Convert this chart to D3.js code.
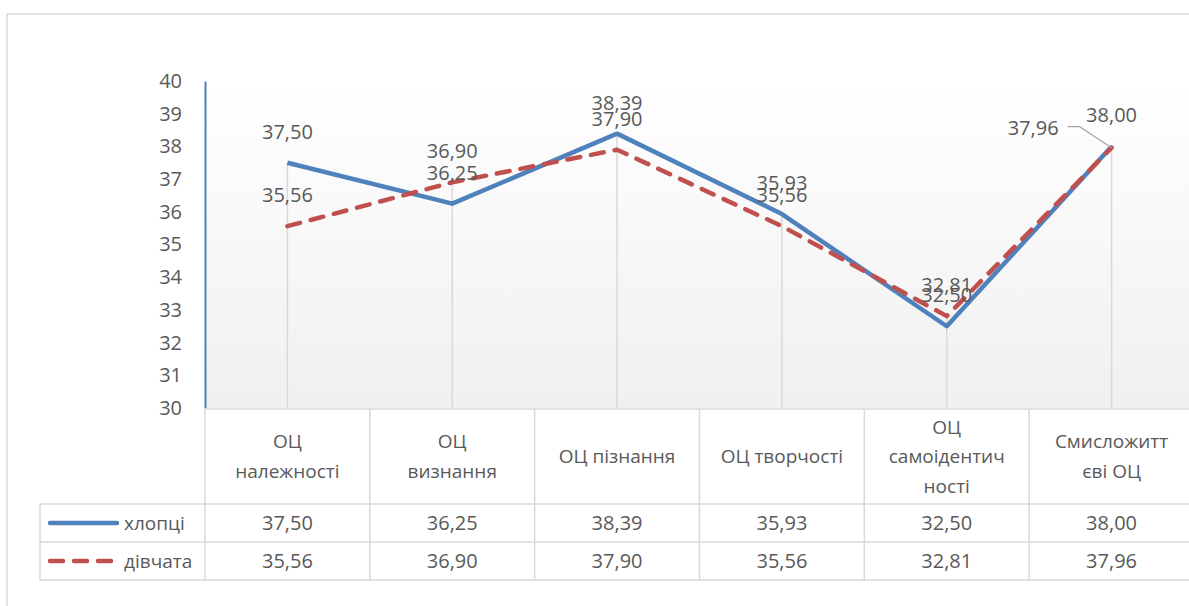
<!DOCTYPE html>
<html>
<head>
<meta charset="utf-8">
<script src="https://cdn.jsdelivr.net/npm/d3@7"></script>
<style>
  body { margin: 0; background: #fff; }
  svg { display: block; font-family: "Open Sans", "Noto Sans", sans-serif; }
</style>
</head>
<body>
<svg id="chart" width="1189" height="606"></svg>
<script>
// categorias (con saltos de linea como en la tabla)
const categories = ['ОЦ\nналежності', 'ОЦ\nвизнання', 'ОЦ пізнання', 'ОЦ творчості', 'ОЦ\nсамоідентич\nності', 'Смисложитт\nєві ОЦ'];
const seriesNames = ['хлопці', 'дівчата'];
const boys = [37.50, 36.25, 38.39, 35.93, 32.50, 38.00];
const girls = [35.56, 36.90, 37.90, 35.56, 32.81, 37.96];
const yTicks = [30, 31, 32, 33, 34, 35, 36, 37, 38, 39, 40];

const svg = d3.select('#chart');
const grey = '#d9d9d9';
const textColor = '#595959';
const blue = '#4f81bd';
const red = '#c0504d';
const dash = '13,11';

const locale = d3.formatLocale({ decimal: ',', thousands: ' ', grouping: [3], currency: ['', ''] });
const fmt = locale.format('.2f');

// borde exterior
svg.append('rect').attr('x', 7).attr('y', 14).attr('width', 1200).attr('height', 620)
  .attr('fill', 'none').attr('stroke', grey).attr('stroke-width', 1.5);

const x = d3.scaleBand().domain(d3.range(categories.length)).range([205, 1194]).padding(0);
const y = d3.scaleLinear().domain([30, 40]).range([408, 81]);
const cx = i => x(i) + x.bandwidth() / 2;

// fondo con degradado
const grad = svg.append('defs').append('linearGradient').attr('id', 'bg')
  .attr('x1', 0).attr('y1', 0).attr('x2', 0).attr('y2', 1);
grad.append('stop').attr('offset', '0%').attr('stop-color', '#ffffff');
grad.append('stop').attr('offset', '100%').attr('stop-color', '#f0f0f0');
svg.append('rect').attr('x', 205).attr('y', y(40)).attr('width', 989).attr('height', y(30) - y(40))
  .attr('fill', 'url(#bg)');

// lineas de caida
svg.append('g').selectAll('line').data(categories).join('line')
  .attr('x1', (d, i) => cx(i)).attr('x2', (d, i) => cx(i))
  .attr('y1', (d, i) => y(Math.max(boys[i], girls[i]))).attr('y2', y(30))
  .attr('stroke', grey).attr('stroke-width', 1.5);

// eje Y
const yAxis = svg.append('g').attr('transform', 'translate(205,0)')
  .call(d3.axisLeft(y).tickValues(yTicks).tickSize(0).tickPadding(23).tickFormat(d3.format('d')));
yAxis.select('.domain').attr('stroke', blue).attr('stroke-width', 2);
yAxis.selectAll('text').attr('fill', textColor).style('font-size', '20px')
  .style('font-family', '"Open Sans", sans-serif');

// lineas de datos
const line = d3.line().x((d, i) => cx(i)).y(d => y(d));
svg.append('path').datum(boys).attr('d', line).attr('fill', 'none')
  .attr('stroke', blue).attr('stroke-width', 4.5).attr('stroke-linejoin', 'round');
svg.append('path').datum(girls).attr('d', line).attr('fill', 'none')
  .attr('stroke', red).attr('stroke-width', 4.5).attr('stroke-dasharray', dash)
  .attr('stroke-linecap', 'round').attr('stroke-linejoin', 'round');

// etiquetas de datos
const labels = svg.append('g').attr('fill', textColor).style('font-size', '20px').attr('text-anchor', 'middle');
boys.forEach((v, i) => {
  labels.append('text').attr('x', cx(i)).attr('y', y(v) - 31).attr('dy', '0.35em').text(fmt(v));
});
girls.forEach((v, i) => {
  const last = i === girls.length - 1;
  if (last) {
    // etiqueta desplazada con linea guia
    labels.append('text').attr('x', cx(i) - 53).attr('y', y(v) - 20).attr('dy', '0.35em')
      .attr('text-anchor', 'end').text(fmt(v));
    svg.append('polyline')
      .attr('points', [[cx(i) - 44, y(v) - 21], [cx(i) - 32, y(v) - 21], [cx(i), y(v)]].join(' '))
      .attr('fill', 'none').attr('stroke', '#a6a6a6').attr('stroke-width', 1.2);
  } else {
    labels.append('text').attr('x', cx(i)).attr('y', y(v) - 31).attr('dy', '0.35em').text(fmt(v));
  }
});

// tabla de datos
const tTop = 409, hBottom = 504, rowH = 38;
const rowsY = [hBottom, hBottom + rowH, hBottom + 2 * rowH];
const table = svg.append('g').attr('stroke', grey).attr('stroke-width', 1.5);
table.append('line').attr('x1', 205).attr('x2', 1194).attr('y1', tTop).attr('y2', tTop);
rowsY.forEach(ry => table.append('line').attr('x1', 40).attr('x2', 1194).attr('y1', ry).attr('y2', ry));
table.append('line').attr('x1', 40).attr('x2', 40).attr('y1', hBottom).attr('y2', rowsY[2]);
d3.range(categories.length + 1).forEach(i => {
  const xx = i < categories.length ? x(i) : 1194;
  table.append('line').attr('x1', xx).attr('x2', xx).attr('y1', tTop).attr('y2', rowsY[2]);
});

const head = svg.append('g').attr('fill', textColor).style('font-size', '19px').attr('text-anchor', 'middle');
categories.forEach((c, i) => {
  const parts = c.split('\n');
  const mid = (tTop + hBottom) / 2;
  parts.forEach((p, k) => {
    head.append('text').attr('x', cx(i)).attr('y', mid + (k - (parts.length - 1) / 2) * 29.5)
      .attr('dy', '0.35em').text(p);
  });
});

const cells = svg.append('g').attr('fill', textColor).style('font-size', '20px').attr('text-anchor', 'middle');
[boys, girls].forEach((vals, r) => {
  vals.forEach((v, i) => {
    cells.append('text').attr('x', cx(i)).attr('y', rowsY[r] + rowH / 2).attr('dy', '0.35em').text(fmt(v));
  });
});

// leyenda dentro de la tabla
const legend = svg.append('g');
[blue, red].forEach((col, r) => {
  const ly = rowsY[r] + rowH / 2;
  legend.append('line').attr('x1', 50).attr('x2', 117).attr('y1', ly).attr('y2', ly)
    .attr('stroke', col).attr('stroke-width', 4.5).attr('stroke-linecap', 'round')
    .attr('stroke-dasharray', r === 1 ? dash : null);
  legend.append('text').attr('x', 124).attr('y', ly).attr('dy', '0.35em')
    .attr('fill', textColor).style('font-size', '19px').text(seriesNames[r]);
});
</script>
</body>
</html>
